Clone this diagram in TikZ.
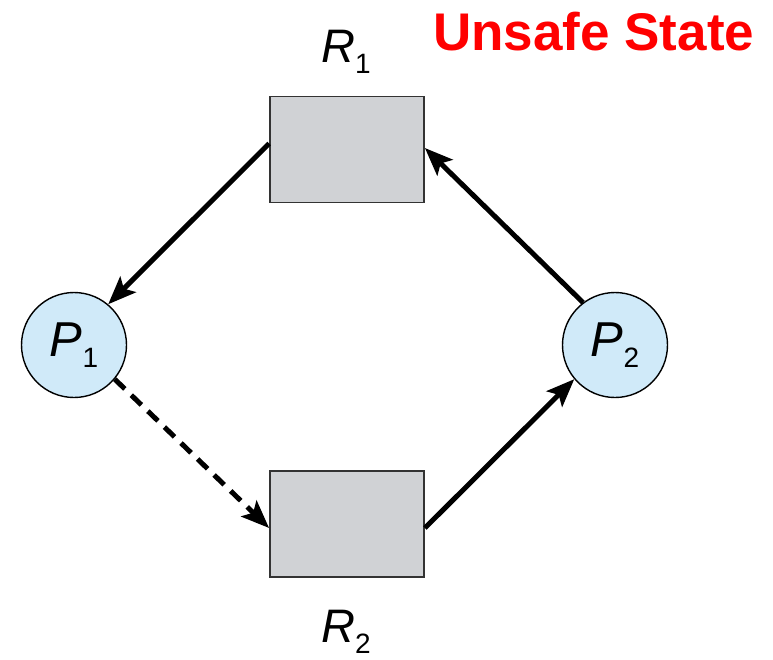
\documentclass[tikz,border=0pt]{standalone}
\usepackage{fontspec}
\setmainfont{Liberation Sans}
\usetikzlibrary{arrows.meta}
\definecolor{boxgray}{RGB}{208,210,213}
\definecolor{circblue}{RGB}{208,234,249}
\newcommand\mylbl[2]{\textit{#1}\raisebox{-11pt}{\fontsize{28}{28}\selectfont #2}}
\begin{document}
\begin{tikzpicture}[x=1pt,y=-1pt,
  resbox/.style={draw=black!80,line width=1.8pt,fill=boxgray,minimum width=154pt,minimum height=106pt,inner sep=0pt},
  proc/.style={circle,draw=black,line width=1.4pt,fill=circblue,minimum size=105pt,inner sep=0pt,font=\fontsize{49}{49}\selectfont},
  lab/.style={font=\fontsize{47}{47}\selectfont,inner sep=0pt},
  arr/.style={line width=5pt,-{Stealth[length=28pt,width=22pt,inset=6pt]}}]
\useasboundingbox (0,0) rectangle (773,659);
\node[resbox] (r1) at (347,149.5) {};
\node[resbox] (r2) at (347,524) {};
\node[proc] (p1) at (74,345) {\mylbl{P}{1}};
\node[proc] (p2) at (615,345) {\mylbl{P}{2}};
\node[lab] (l1) at (346,52) {\mylbl{R}{1}};
\node[lab] (l2) at (346,632) {\mylbl{R}{2}};
\node[anchor=base west,inner sep=0pt,text=red,font=\fontsize{53}{53}\selectfont\bfseries] (t) at (433,50) {Unsafe State};
\draw[arr] ([yshift=6pt]r1.west) -- (p1.50);
\draw[arr] (p2.127) -- ([yshift=1.5pt]r1.east);
\draw[arr,dash pattern=on 14pt off 9pt] (p1.-40) -- ([yshift=-4pt]r2.west);
\draw[arr] ([yshift=-4pt]r2.east) -- (p2.220);
\end{tikzpicture}
\end{document}
